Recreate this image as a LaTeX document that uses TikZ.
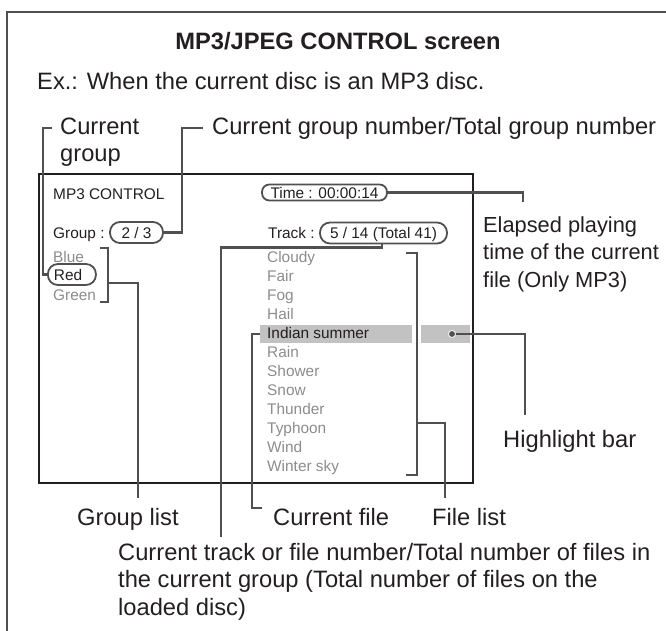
\documentclass[tikz,border=0pt]{standalone}
\usepackage{fontspec}
\setmainfont{Liberation Sans}
\usetikzlibrary{positioning, calc}
\definecolor{mpink}{HTML}{231F20}
\definecolor{mplead}{HTML}{505050}
\definecolor{mpdim}{HTML}{8C8C8C}
\definecolor{mpbar}{HTML}{C2C2C2}
\newcommand\lblsize{\fontsize{23.7pt}{27.5pt}\selectfont}
\newcommand\scrsize{\fontsize{15.4pt}{19pt}\selectfont}

\begin{document}
\begin{tikzpicture}[x=1pt, y=-1pt, font=\lblsize, text=mpink,
        lbl/.style={anchor=base west, inner sep=0pt, align=left},
        conn/.style={draw=mplead, line width=2.6pt},
        scr/.style={anchor=base west, inner sep=0pt, font=\scrsize},
        dim/.style={scr, text=mpdim},
        oval/.style={draw=mplead, line width=1.8pt, rounded corners=10pt, inner sep=0pt,
                     minimum height=21pt, text height=11.2pt, text depth=0pt, font=\scrsize},
        bar/.style={fill=mpbar, inner sep=0pt, minimum height=18pt}]
        \useasboundingbox (0,0) rectangle (666,631);
        \draw[mplead, line width=1.4pt] (7,631) -- (7,12) -- (666,12);

        \node[lbl, font=\lblsize\bfseries, anchor=base] (title) at (338,50) {MP3/JPEG CONTROL screen};
        \node[lbl] (ex) at (37,90) {Ex.: When the current disc is an MP3 disc.};

        % the screen
        \node[draw=mpink, line width=2pt, inner sep=0pt, minimum width=434pt, minimum height=309pt,
              anchor=north west] (screen) at (38,173) {};
        \node[scr] (mp3) at (53,199) {MP3 CONTROL};
        \node[oval, minimum width=125pt, minimum height=16pt, rounded corners=7.5pt] (timeval) at (324.5,192.5) {Time : 00:00:14};
        \node[scr] (grp) at (53,238) {Group :};
        \node[oval, minimum width=53pt] (grpval) at (136.5,232.5) {2 / 3};
        \node[scr] (trk) at (268,238) {Track :};
        \node[oval, minimum width=127pt] (trkval) at (383.5,233) {5 / 14 (Total 41)};

        \node[dim] (blue) at (53,262) {Blue};
        \node[oval, anchor=west, text width=36pt, align=left, inner xsep=6pt] (red) at (47,274.5) {Red};
        \node[dim] (green) at (53,300) {Green};

        \node[bar, minimum width=152pt, anchor=west] (hl) at (260,334) {};
        \node[bar, minimum width=49pt, anchor=west] (hlr) at (421,334) {};
        \node[dim] (cloudy) at (267,262) {Cloudy};
        \node[dim] (fair) at (267,281) {Fair};
        \node[dim] (fog) at (267,300) {Fog};
        \node[dim] (hail) at (267,319) {Hail};
        \node[scr] (indian) at (267,338) {Indian summer};
        \node[dim] (rain) at (267,357) {Rain};
        \node[dim] (shower) at (267,376) {Shower};
        \node[dim] (snow) at (267,395) {Snow};
        \node[dim] (thunder) at (267,414) {Thunder};
        \node[dim] (typhoon) at (267,433) {Typhoon};
        \node[dim] (wind) at (267,452) {Wind};
        \node[dim] (winter) at (267,471) {Winter sky};

        % callout texts (multi-line ones sit on their last line)
        \node[lbl, font=\fontsize{23.7pt}{27pt}\selectfont] (cg) at (60,162) {Current\\group};
        \node[lbl] (gn) at (212,135) {Current group number/Total group number};
        \node[lbl, font=\fontsize{21.8pt}{27.5pt}\selectfont] (el) at (483,287) {Elapsed playing\\time of the current\\file (Only MP3)};
        \node[lbl] (hb) at (503,447) {Highlight bar};
        \node[lbl] (gl) at (77,525) {Group list};
        \node[lbl] (cf) at (273,525) {Current file};
        \node[lbl] (fl) at (432,525) {File list};
        \node[lbl] (ct) at (118,615) {Current track or file number/Total number of files in\\the current group (Total number of files on the\\loaded disc)};

        \coordinate (cgTop) at (52,128);
        \coordinate (gnTop) at (203,128);
        \coordinate (elTop) at (523,202);
        \coordinate (ctEnd) at (221,537);
        \coordinate (glTop) at (100,248);
        \coordinate (glBot) at (100,302);
        \coordinate (glEnd) at (138,498);
        \coordinate (flTop) at (406,253);
        \coordinate (flBot) at (406,475);
        \coordinate (flEnd) at (445,498);
        \coordinate (cfEnd) at (262,508);
        \coordinate (hbEnd) at (525,415);

        \draw[conn] (cgTop) -- ++(-9,0) |- (red.west);
        \draw[conn] (gnTop) -- ++(-21,0) |- (grpval.east);
        \draw[conn] (timeval.east) -| (elTop);
        \draw[conn] ([xshift=-1.5pt]trkval.south) -- ++(0,3) -| (ctEnd);
        \draw[conn] (glTop) -- ++(8,0) |- (glBot);
        \draw[conn] (108,283) -| (glEnd);
        \draw[conn] (flTop) -- ++(11,0) |- (flBot);
        \draw[conn] (417,423) -| (flEnd);
        \draw[conn] (hl.west) -- ++(-8,0) |- (cfEnd);
        \draw[conn] (452,334) -| (hbEnd);
        \node[circle, fill=mplead, draw=white, line width=0.8pt, inner sep=0pt, minimum size=7pt] (dot) at (452,334) {};
      \end{tikzpicture}
\end{document}
